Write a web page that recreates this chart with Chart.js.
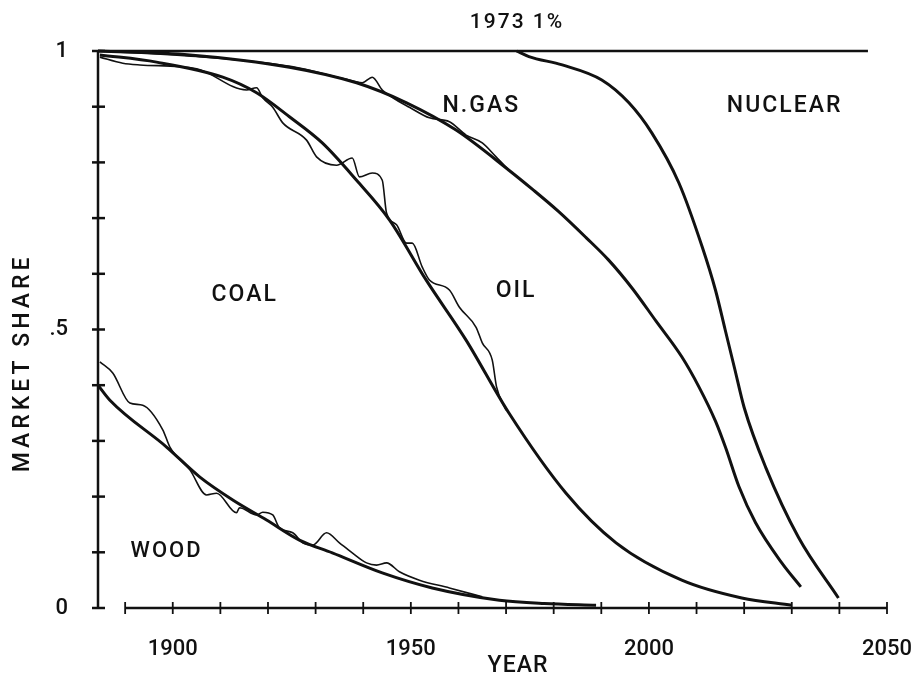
<!DOCTYPE html>
<html>
<head>
<meta charset="utf-8">
<title>Market share substitution</title>
<script src="https://cdn.jsdelivr.net/npm/chart.js@4"></script>
<style>
  body { margin: 0; background: #fff; }
</style>
</head>
<body>
<canvas id="myChart" width="917" height="680"></canvas>
<script>
// values (year, market share)
const topYears = [1884.3, 2046];
const topShare = [1, 1];

const woodFitYears = [1884.3, 1886.8, 1898.7, 1905.7, 1912.6, 1919.7, 1926.6, 1933.5, 1944.0, 1954.5, 1968.6, 1978, 1988.9];
const woodFitShare = [0.400, 0.373, 0.289, 0.235, 0.194, 0.158, 0.122, 0.099, 0.063, 0.036, 0.014, 0.008, 0.005];

const woodDataYears = [1884.7, 1887.4, 1891.0, 1893.7, 1897.9, 1899.4, 1903.6, 1907.1, 1909.2, 1913.4, 1914.0, 1917.6, 1918.9, 1921.0, 1922.4, 1925.2, 1927.3, 1929.4, 1932.3, 1935.0, 1937.7, 1940.7, 1942.8, 1944.9, 1947.6, 1951.8, 1958.1, 1965.0];
const woodDataShare = [0.442, 0.422, 0.368, 0.364, 0.320, 0.289, 0.248, 0.203, 0.206, 0.171, 0.180, 0.167, 0.172, 0.167, 0.144, 0.135, 0.117, 0.113, 0.135, 0.117, 0.099, 0.081, 0.077, 0.081, 0.065, 0.050, 0.036, 0.020];

const coalFitYears = [1884.7, 1896.6, 1910.5, 1917.6, 1924.5, 1931.4, 1938.6, 1945.5, 1953.2, 1961.6, 1970.6, 1982.6, 1993.1, 2006.9, 2019.5, 2030.0];
const coalFitShare = [0.993, 0.980, 0.953, 0.925, 0.882, 0.835, 0.768, 0.697, 0.589, 0.481, 0.350, 0.206, 0.117, 0.050, 0.018, 0.005];

const coalDataYears = [1884.7, 1889.5, 1893.1, 1905, 1915.5, 1917.6, 1918.9, 1921.0, 1923.1, 1928.1, 1930.2, 1934.4, 1937.7, 1939.2, 1941.9, 1944.0, 1944.9, 1947.0, 1949.1, 1950.3, 1952.4, 1953.9, 1958.1, 1960.2, 1963.7, 1965.0, 1967.1, 1968.0, 1970.0];
const coalDataShare = [0.989, 0.978, 0.975, 0.968, 0.930, 0.934, 0.916, 0.899, 0.871, 0.840, 0.810, 0.795, 0.808, 0.774, 0.781, 0.768, 0.709, 0.688, 0.655, 0.655, 0.612, 0.589, 0.571, 0.540, 0.504, 0.476, 0.445, 0.397, 0.355];

const gasFitYears = [1884.3, 1903.6, 1924.5, 1938.6, 1949.1, 1959.5, 1970.6, 1975.5, 1981.0, 1986.8, 1991.5, 1996.4, 2001.5, 2006.9, 2010.5, 2014.0, 2016.1, 2018.9, 2022.4, 2027.9, 2031.9];
const gasFitShare = [1.0, 0.993, 0.971, 0.943, 0.907, 0.858, 0.786, 0.752, 0.712, 0.665, 0.625, 0.575, 0.515, 0.451, 0.397, 0.335, 0.288, 0.218, 0.153, 0.081, 0.038];

const gasDataYears = [1884.3, 1905, 1925, 1936, 1939.8, 1941.9, 1944.0, 1947.0, 1949.7, 1953.9, 1958.1, 1961.6, 1965.0, 1967.9, 1970.6];
const gasDataShare = [1.0, 0.990, 0.972, 0.950, 0.943, 0.953, 0.930, 0.912, 0.899, 0.880, 0.873, 0.849, 0.835, 0.810, 0.786];

const nuclearYears = [1972.2, 1974.8, 1981.8, 1990.1, 1995.8, 2000.6, 2006.3, 2011.2, 2014.0, 2016.0, 2018.0, 2020.0, 2024.5, 2031.4, 2039.8];
const nuclearShare = [1.0, 0.990, 0.975, 0.948, 0.907, 0.853, 0.763, 0.648, 0.570, 0.500, 0.430, 0.360, 0.253, 0.127, 0.018];

const xLabelYears = [1900, 1950, 2000, 2050];
const xTickYears = [1890, 1900, 1910, 1920, 1930, 1940, 1950, 1960, 1970, 1980, 1990, 2000, 2010, 2020, 2030, 2040, 2050];
const yLabelValues = [0, 0.5, 1];
const yTickValues = [0, 0.1, 0.2, 0.3, 0.4, 0.5, 0.6, 0.7, 0.8, 0.9, 1];

const regionLabels = [
  { text: "COAL", year: 1915.1, share: 0.562, size: 23 },
  { text: "OIL", year: 1972.1, share: 0.569, size: 23 },
  { text: "N.GAS", year: 1964.8, share: 0.901, size: 23 },
  { text: "NUCLEAR", year: 2028.5, share: 0.901, size: 23 },
  { text: "WOOD", year: 1898.7, share: 0.102, size: 22 },
  { text: "1973 1%", year: 1972.3, share: 1.05, size: 21 },
];

const ink = "#111";
const fontName = "Roboto, 'Liberation Sans', sans-serif";

const toPoints = (years, shares) => years.map((year, i) => ({ x: year, y: shares[i] }));

const curve = (years, shares, width, tension) => ({
  data: toPoints(years, shares),
  borderColor: ink,
  borderWidth: width,
  pointRadius: 0,
  tension: tension,
  cubicInterpolationMode: "monotone",
  clip: false,
  fill: false,
});

const line = (ctx, x1, y1, x2, y2) => {
  ctx.beginPath();
  ctx.moveTo(x1, y1);
  ctx.lineTo(x2, y2);
  ctx.stroke();
};

const decor = {
  id: "decor",
  afterDraw(chart) {
    const { ctx } = chart;
    const { x, y } = chart.scales;
    ctx.save();
    ctx.strokeStyle = ink;
    ctx.lineWidth = 2.5;

    // vertical axis with crossing ticks
    const x0 = x.getPixelForValue(x.min);
    line(ctx, x0, y.getPixelForValue(0), x0, y.getPixelForValue(1));
    yTickValues.forEach((v) => {
      const py = y.getPixelForValue(v);
      line(ctx, x0 - 6, py, x0 + 7, py);
    });

    // horizontal axis from 1890 to 2050
    const y0 = y.getPixelForValue(0);
    line(ctx, x.getPixelForValue(xTickYears[0]), y0, x.getPixelForValue(xTickYears[xTickYears.length - 1]), y0);
    ctx.lineWidth = 1.8;
    xTickYears.forEach((year) => {
      const px = x.getPixelForValue(year);
      line(ctx, px, y0 - 6, px, y0 + 6);
    });

    // region names
    ctx.fillStyle = ink;
    ctx.textAlign = "center";
    ctx.textBaseline = "middle";
    regionLabels.forEach((label) => {
      ctx.font = `500 ${label.size}px ${fontName}`;
      ctx.letterSpacing = "2px";
      ctx.fillText(label.text, x.getPixelForValue(label.year), y.getPixelForValue(label.share));
    });

    // axis titles
    ctx.font = `500 23px ${fontName}`;
    ctx.letterSpacing = "1px";
    ctx.fillText("YEAR", x.getPixelForValue(1972.5), chart.height - 14);

    ctx.translate(23, y.getPixelForValue(0.44));
    ctx.rotate(-Math.PI / 2);
    ctx.letterSpacing = "4px";
    ctx.fillText("MARKET SHARE", 0, 0);
    ctx.restore();
  },
};

const ctx = document.querySelector("#myChart");

new Chart(ctx, {
  type: "line",
  data: {
    datasets: [
      curve(topYears, topShare, 2.5, 0),
      curve(woodFitYears, woodFitShare, 3, 0.4),
      curve(woodDataYears, woodDataShare, 1.6, 0.3),
      curve(coalFitYears, coalFitShare, 3, 0.4),
      curve(coalDataYears, coalDataShare, 1.6, 0.3),
      curve(gasFitYears, gasFitShare, 3, 0.4),
      curve(gasDataYears, gasDataShare, 1.6, 0.3),
      curve(nuclearYears, nuclearShare, 3, 0.4),
    ],
  },
  options: {
    responsive: false,
    animation: false,
    layout: { padding: { left: 0, right: 30, top: 51, bottom: 0 } },
    plugins: { legend: { display: false }, tooltip: { enabled: false } },
    scales: {
      x: {
        type: "linear",
        min: 1884.3,
        max: 2050,
        grid: { display: false },
        border: { display: false },
        afterBuildTicks: (scale) => {
          scale.ticks = xLabelYears.map((value) => ({ value }));
        },
        afterFit: (scale) => {
          scale.height = 72;
          scale.paddingLeft = 0;
          scale.paddingRight = 0;
        },
        ticks: {
          color: ink,
          padding: 20,
          maxRotation: 0,
          autoSkip: false,
          font: { family: fontName, size: 22, weight: "500" },
          callback: (value) => String(value),
        },
      },
      y: {
        min: 0,
        max: 1,
        grid: { display: false },
        border: { display: false },
        afterBuildTicks: (scale) => {
          scale.ticks = yLabelValues.map((value) => ({ value }));
        },
        afterFit: (scale) => {
          scale.width = 98;
          scale.paddingTop = 0;
          scale.paddingBottom = 0;
        },
        ticks: {
          color: ink,
          padding: 22,
          font: { family: fontName, size: 22, weight: "500" },
          callback: (value) => String(value).replace(/^0\./, "."),
        },
      },
    },
  },
  plugins: [decor],
});
</script>
</body>
</html>
